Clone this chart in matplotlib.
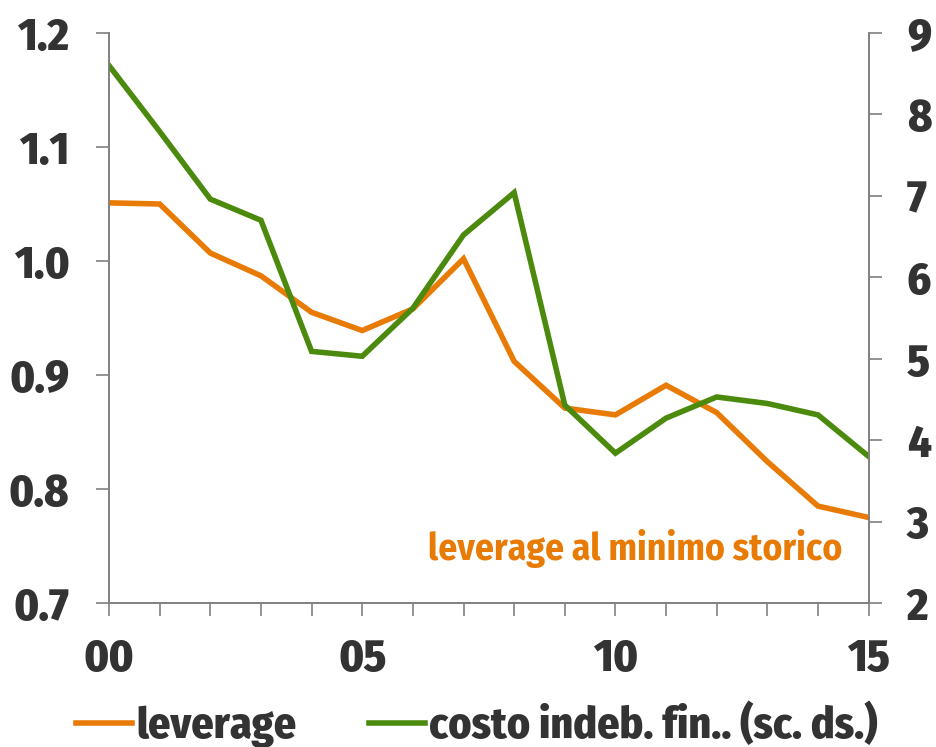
import matplotlib.pyplot as plt
from matplotlib import font_manager as fm
from matplotlib.ticker import MultipleLocator, FixedLocator, FuncFormatter

# anni 2000-2015
years = list(range(0, 16))
leverage = [1.051, 1.050, 1.007, 0.987, 0.955, 0.939, 0.958, 1.002,
            0.912, 0.871, 0.865, 0.891, 0.867, 0.824, 0.785, 0.775]
costo = [8.60, 7.79, 6.96, 6.70, 5.09, 5.03, 5.62, 6.52,
         7.04, 4.43, 3.84, 4.27, 4.53, 4.45, 4.31, 3.80]

orange = '#E87B05'
green = '#4C8A0E'
grey = '#808080'
dark = '#333333'

# font condensato, se c'e'
have = set(f.name for f in fm.fontManager.ttflist)
font = 'DejaVu Sans'
for c in ['Fira Sans Condensed', 'Roboto Condensed', 'Liberation Sans Narrow']:
    if c in have:
        font = c
        break

plt.rcParams['font.family'] = [font, 'DejaVu Sans']
plt.rcParams['font.weight'] = 800

fig = plt.figure(figsize=(9.36, 7.47), dpi=100)
ax = fig.add_axes([0.1165, 0.1928, 0.8115, 0.763])
ax2 = ax.twinx()

lw = 4.0
ax.plot(years, leverage, color=orange, lw=lw, solid_joinstyle='miter', zorder=3)
ax2.plot(years, costo, color=green, lw=lw, solid_joinstyle='miter', zorder=2)

ax.set_xlim(0, 15)
ax.set_ylim(0.7, 1.2)
ax2.set_ylim(2, 9)

ax.yaxis.set_major_locator(MultipleLocator(0.1))
ax.yaxis.set_major_formatter(FuncFormatter(lambda v, p: '%.1f' % v))
ax2.yaxis.set_major_locator(MultipleLocator(1))
ax.xaxis.set_major_locator(FixedLocator([0, 5, 10, 15]))
ax.xaxis.set_minor_locator(MultipleLocator(1))
ax.xaxis.set_major_formatter(FuncFormatter(lambda v, p: '%02d' % v))

for a in (ax, ax2):
    for s in a.spines.values():
        s.set_color(grey)
        s.set_linewidth(1.2)
    a.spines['top'].set_visible(False)

ax.tick_params(axis='y', direction='out', length=9.5, width=1.2, color=grey,
               labelsize=33, labelcolor=dark, pad=19)
ax2.tick_params(axis='y', direction='out', length=9.5, width=1.2, color=grey,
                labelsize=33, labelcolor=dark, pad=18)
ax.tick_params(axis='x', which='both', direction='out', length=9.5, width=1.2,
               color=grey, labelsize=33, labelcolor=dark, pad=15)

ax.text(14.48, 0.765, 'leverage al minimo storico', color=orange, fontsize=27,
        fontweight='bold', ha='right', va='top', zorder=5)

h1, = ax.plot([], [], color=orange, lw=lw)
h2, = ax.plot([], [], color=green, lw=lw)
leg = fig.legend([h1, h2], ['leverage', 'costo indeb. fin.. (sc. ds.)'],
                 loc='center left', bbox_to_anchor=(76 / 936, 0.028), ncol=2,
                 frameon=False, fontsize=31.5, handlelength=1.28, borderpad=0,
                 borderaxespad=0, handletextpad=0.1, columnspacing=1.65)
for t in leg.get_texts():
    t.set_color(dark)

fig.savefig('out.png', dpi=100)
